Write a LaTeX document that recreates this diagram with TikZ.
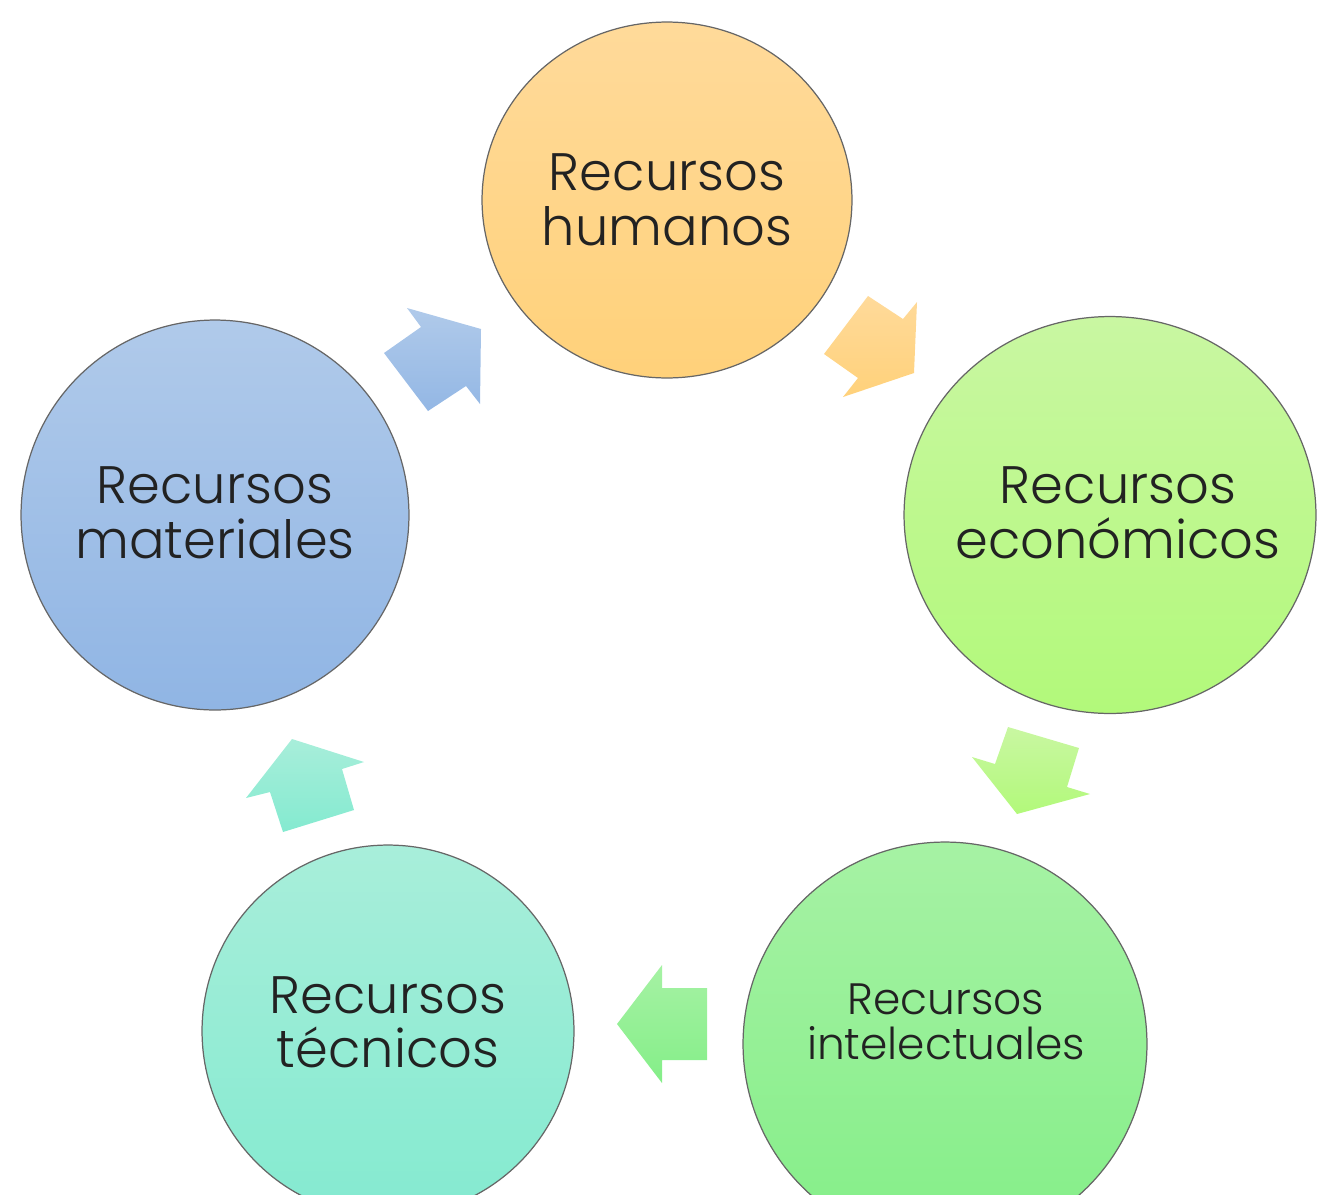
\documentclass[tikz,border=0pt]{standalone}
\usepackage{fontspec}
\setmainfont{Poppins}[UprightFont={* Light}]
\usetikzlibrary{shapes.geometric}
\definecolor{humTop}{HTML}{FFDA9A}\definecolor{humBot}{HTML}{FFD17A}
\definecolor{ecoTop}{HTML}{C9F7A2}\definecolor{ecoBot}{HTML}{B2F97A}
\definecolor{intTop}{HTML}{A6F2A4}\definecolor{intBot}{HTML}{84EE88}
\definecolor{tecTop}{HTML}{A8EEDA}\definecolor{tecBot}{HTML}{84EAD0}
\definecolor{matTop}{HTML}{B0CAEA}\definecolor{matBot}{HTML}{90B5E4}
\definecolor{texto}{HTML}{222222}
\tikzset{
  recurso/.style={ellipse, draw=black!60, line width=0.7pt, inner sep=0pt},
  rotulo/.style={align=center, text=texto, font=\fontsize{30}{31}\selectfont},
  flecha/.style={draw=none}
}
\begin{document}
\begin{tikzpicture}[x={(0.02cm,0)}, y={(0,-0.02cm)}]
\useasboundingbox (0,0) rectangle (1317,1194);
\clip (0,0) rectangle (1317,1194);
% circulos
\node[recurso, minimum width=7.4cm, minimum height=7.12cm, top color=humTop, bottom color=humBot] (hum) at (667,200) {};
\node[recurso, minimum width=8.24cm, minimum height=7.94cm, top color=ecoTop, bottom color=ecoBot] (eco) at (1110,515) {};
\node[recurso, minimum width=8.08cm, minimum height=8.08cm, top color=intTop, bottom color=intBot] (int) at (945,1044) {};
\node[recurso, minimum width=7.44cm, minimum height=7.44cm, top color=tecTop, bottom color=tecBot] (tec) at (388,1031) {};
\node[recurso, minimum width=7.76cm, minimum height=7.8cm, top color=matTop, bottom color=matBot] (mat) at (215,515) {};
% textos
\node[rotulo] (humT) at (667,200) {Recursos\\humanos};
\node[rotulo] (ecoT) at (1118,513) {Recursos\\económicos};
\node[rotulo, font=\fontsize{25}{25.6}\selectfont] (intT) at (946,1022) {Recursos\\intelectuales};
\node[rotulo] (tecT) at (388,1022) {Recursos\\técnicos};
\node[rotulo] (matT) at (215,513) {Recursos\\materiales};
% flechas
\path[flecha, top color=matTop, bottom color=matBot!90!matTop]
  (407,308)--(481,329)--(480,404)--(466,386)--(428,411)--(384,353)--(421,327)--cycle;
\path[flecha, top color=humTop, bottom color=humBot]
  (868,296)--(903,319)--(917,302)--(914,373)--(843,397)--(858,378)--(824,354)--cycle;
\path[flecha, top color=ecoTop, bottom color=ecoBot]
  (1008,727)--(1079,748)--(1067,787)--(1090,794)--(1017,814)--(972,757)--(995,764)--cycle;
\path[flecha, top color=intTop, bottom color=intBot]
  (662,965)--(662,988)--(707,988)--(707,1060)--(662,1060)--(662,1083)--(617,1024)--cycle;
\path[flecha, top color=tecTop, bottom color=tecBot]
  (292,739)--(364,762)--(342,769)--(354,810)--(283,832)--(270,792)--(246,798)--cycle;
\end{tikzpicture}
\end{document}
